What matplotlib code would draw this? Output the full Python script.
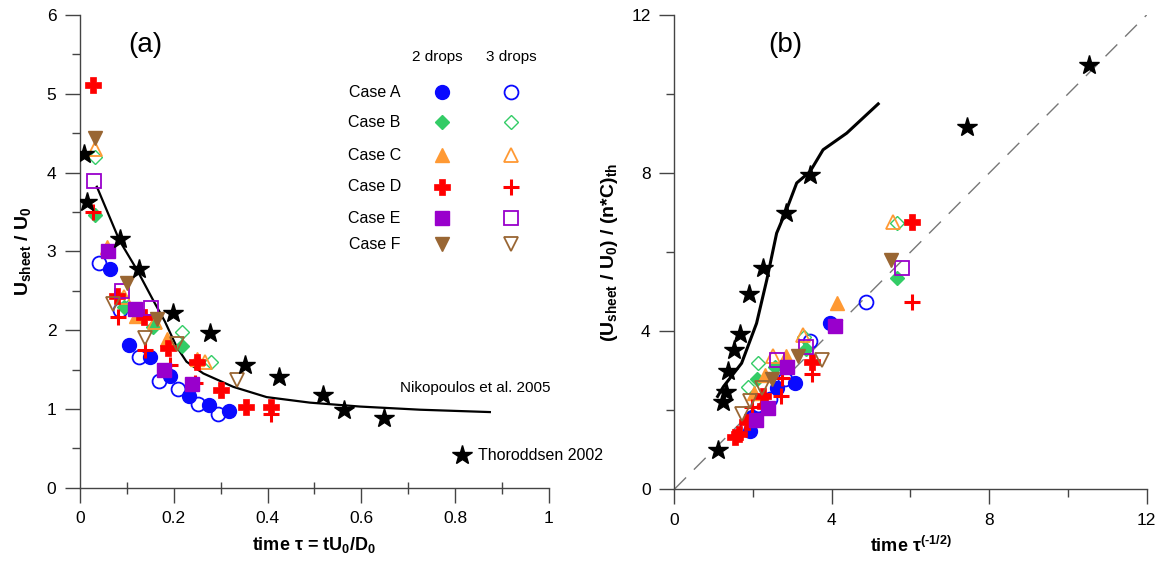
import matplotlib
matplotlib.use("Agg")
import matplotlib.pyplot as plt
from matplotlib.ticker import MultipleLocator

plt.rcParams['font.family'] = ['Liberation Sans', 'DejaVu Sans']
plt.rcParams['mathtext.fontset'] = 'custom'
plt.rcParams['mathtext.rm'] = 'Liberation Sans'
plt.rcParams['mathtext.bf'] = 'Liberation Sans:bold'
plt.rcParams['mathtext.it'] = 'Liberation Sans:italic'
plt.rcParams['mathtext.default'] = 'bf'

# ---------------- Panel (a) data: U_sheet/U0 vs tau ----------------
a_A2_x = [0.063, 0.104, 0.149, 0.191, 0.232, 0.275, 0.318]
a_A2_y = [2.77, 1.81, 1.66, 1.42, 1.17, 1.05, 0.97]
a_A3_x = [0.041, 0.086, 0.126, 0.168, 0.210, 0.252, 0.295]
a_A3_y = [2.85, 2.25, 1.66, 1.35, 1.25, 1.06, 0.94]
a_B2_x = [0.032, 0.094, 0.156, 0.217]
a_B2_y = [3.46, 2.29, 2.04, 1.80]
a_B3_x = [0.032, 0.090, 0.217, 0.279]
a_B3_y = [4.20, 2.40, 1.98, 1.60]
a_C2_x = [0.057, 0.120, 0.186, 0.249]
a_C2_y = [3.05, 2.18, 1.89, 1.63]
a_C3_x = [0.032, 0.093, 0.160, 0.266]
a_C3_y = [4.30, 2.42, 2.10, 1.59]
a_D2_x = [0.027, 0.079, 0.137, 0.188, 0.249, 0.301, 0.354, 0.407]
a_D2_y = [5.11, 2.43, 2.17, 1.77, 1.59, 1.24, 1.03, 1.03]
a_D3_x = [0.027, 0.080, 0.139, 0.192, 0.245, 0.407]
a_D3_y = [3.50, 2.17, 1.75, 1.56, 1.33, 0.94]
a_E2_x = [0.059, 0.118, 0.179, 0.238]
a_E2_y = [3.01, 2.27, 1.50, 1.32]
a_E3_x = [0.029, 0.089, 0.151]
a_E3_y = [3.89, 2.50, 2.28]
a_F2_x = [0.032, 0.100, 0.164]
a_F2_y = [4.44, 2.60, 2.14]
a_F3_x = [0.071, 0.139, 0.206, 0.335]
a_F3_y = [2.33, 1.90, 1.82, 1.37]
a_star_x = [0.009, 0.016, 0.086, 0.125, 0.199, 0.277, 0.352, 0.424, 0.519, 0.563, 0.648]
a_star_y = [4.24, 3.63, 3.16, 2.77, 2.22, 1.96, 1.56, 1.40, 1.18, 0.99, 0.89]
a_niko_x = [0.036, 0.084, 0.122, 0.156, 0.181, 0.206, 0.227, 0.263, 0.327, 0.398, 0.49, 0.597, 0.725, 0.874]
a_niko_y = [3.82, 3.14, 2.76, 2.38, 2.11, 1.79, 1.60, 1.45, 1.28, 1.15, 1.08, 1.03, 0.99, 0.96]

# ---------------- Panel (b) data ----------------
b_A2_x = [3.95, 3.07, 2.60, 1.97, 1.92]
b_A2_y = [4.20, 2.70, 2.56, 1.84, 1.48]
b_A3_x = [4.87, 3.45, 2.81, 2.43, 2.13, 1.84]
b_A3_y = [4.75, 3.74, 2.79, 2.28, 2.13, 1.58]
b_B2_x = [5.65, 3.35, 2.56, 2.11]
b_B2_y = [5.34, 3.55, 3.10, 2.78]
b_B3_x = [5.66, 3.30, 2.13, 1.88]
b_B3_y = [6.73, 3.85, 3.19, 2.58]
b_C2_x = [4.14, 2.85, 2.30, 2.02]
b_C2_y = [4.71, 3.37, 2.89, 2.43]
b_C3_x = [5.56, 3.26, 2.51]
b_C3_y = [6.77, 3.91, 3.37]
b_D2_x = [6.05, 3.49, 2.26, 2.30, 1.84, 1.65, 1.54]
b_D2_y = [6.77, 3.23, 2.35, 2.11, 1.71, 1.40, 1.33]
b_D3_x = [6.03, 3.49, 2.73, 2.70, 1.97]
b_D3_y = [4.73, 2.92, 2.81, 2.35, 2.09]
b_E2_x = [4.08, 2.87, 2.39, 2.08]
b_E2_y = [4.12, 3.09, 2.05, 1.75]
b_E3_x = [5.79, 3.35, 2.60]
b_E3_y = [5.61, 3.61, 3.27]
b_F2_x = [5.50, 3.15, 2.47]
b_F2_y = [5.81, 3.37, 2.78]
b_F3_x = [3.74, 2.22, 1.92, 1.71]
b_F3_y = [3.27, 2.56, 2.24, 1.91]
b_star_x = [1.11, 1.23, 1.31, 1.37, 1.52, 1.67, 1.90, 2.26, 2.85, 3.46, 7.44, 10.54]
b_star_y = [0.99, 2.22, 2.47, 3.00, 3.53, 3.93, 4.94, 5.61, 7.00, 7.94, 9.16, 10.74]
b_line_x = [1.10, 1.25, 1.71, 2.09, 2.35, 2.60, 2.85, 3.11, 3.45, 3.78, 4.38, 5.18]
b_line_y = [2.35, 2.60, 3.19, 4.20, 5.30, 6.48, 7.07, 7.75, 8.04, 8.59, 9.01, 9.75]
b_ref_x = [0, 12]
b_ref_y = [0, 12]

case_labels = ['Case A', 'Case B', 'Case C', 'Case D', 'Case E', 'Case F']
legend_rows_y = [5.02, 4.64, 4.22, 3.82, 3.42, 3.09]

BLUE = '#0a0aff'
GREEN = '#33cc66'
ORANGE = '#ff9933'
RED = '#ff0000'
PURPLE = '#9900cc'
BROWN = '#996633'

# style per series: (marker, color, filled, size, mew)
styles = {
    'A2': ('o', BLUE, True, 10, 1.0),
    'A3': ('o', BLUE, False, 10, 1.3),
    'B2': ('D', GREEN, True, 7.5, 1.0),
    'B3': ('D', GREEN, False, 7.5, 1.0),
    'C2': ('^', ORANGE, True, 10, 1.0),
    'C3': ('^', ORANGE, False, 10, 1.3),
    'D2': ('P', RED, True, 11, 0.5),
    'D3': ('+', RED, False, 12, 2.2),
    'E2': ('s', PURPLE, True, 9.5, 1.0),
    'E3': ('s', PURPLE, False, 9.5, 1.3),
    'F2': ('v', BROWN, True, 10, 1.0),
    'F3': ('v', BROWN, False, 10, 1.3),
}

def draw(ax, key, x, y, **kw):
    m, c, filled, ms, mew = styles[key]
    if filled:
        ax.plot(x, y, ls='none', marker=m, color=c, mfc=c, mec=c, ms=ms, mew=mew, **kw)
    else:
        ax.plot(x, y, ls='none', marker=m, color=c, mfc='none', mec=c, ms=ms, mew=mew, **kw)

fig = plt.figure(figsize=(11.66, 5.65), dpi=100)
axa = fig.add_axes([0.0686, 0.1368, 0.4022, 0.8367])
axb = fig.add_axes([0.5783, 0.1340, 0.4051, 0.8395])

AXC = '#444444'
for ax in (axa, axb):
    ax.spines['top'].set_visible(False)
    ax.spines['right'].set_visible(False)
    for s in ('left', 'bottom'):
        ax.spines[s].set_color(AXC)
        ax.spines[s].set_linewidth(1.0)
    ax.tick_params(which='major', direction='out', length=11, width=1.0, color=AXC, labelsize=12.5, pad=6)
    ax.tick_params(which='minor', direction='out', length=6, width=1.0, color=AXC)

# ---------- panel (a) ----------
axa.plot(a_niko_x, a_niko_y, color='black', lw=1.6, zorder=2)
series_a = [('A2', a_A2_x, a_A2_y), ('A3', a_A3_x, a_A3_y), ('B2', a_B2_x, a_B2_y), ('B3', a_B3_x, a_B3_y),
            ('C2', a_C2_x, a_C2_y), ('C3', a_C3_x, a_C3_y), ('D2', a_D2_x, a_D2_y), ('D3', a_D3_x, a_D3_y),
            ('E2', a_E2_x, a_E2_y), ('E3', a_E3_x, a_E3_y), ('F2', a_F2_x, a_F2_y), ('F3', a_F3_x, a_F3_y)]
for key, x, y in series_a:
    draw(axa, key, x, y, zorder=3)
axa.plot(a_star_x, a_star_y, ls='none', marker='*', color='black', ms=15, zorder=4)

axa.set_xlim(0, 1)
axa.set_ylim(0, 6)
axa.xaxis.set_major_locator(MultipleLocator(0.2))
axa.xaxis.set_minor_locator(MultipleLocator(0.1))
axa.yaxis.set_major_locator(MultipleLocator(1))
axa.yaxis.set_minor_locator(MultipleLocator(0.5))
axa.xaxis.set_major_formatter(plt.FuncFormatter(lambda v, p: ('%g' % round(v, 2))))
axa.tick_params(axis='x', which='minor', direction='inout', length=9)

axa.set_xlabel('time τ = tU$_0$/D$_0$', fontsize=13, fontweight='bold', labelpad=6)
axa.set_ylabel('U$_{sheet}$ / U$_0$', fontsize=14, fontweight='bold', labelpad=10)

axa.text(0.139, 5.62, '(a)', fontsize=20, ha='center', va='center')

# legend block
axa.text(0.762, 5.47, '2 drops', fontsize=11, ha='center', va='center')
axa.text(0.92, 5.47, '3 drops', fontsize=11, ha='center', va='center')
keys2 = ['A2', 'B2', 'C2', 'D2', 'E2', 'F2']
keys3 = ['A3', 'B3', 'C3', 'D3', 'E3', 'F3']
for lab, yy, k2, k3 in zip(case_labels, legend_rows_y, keys2, keys3):
    axa.text(0.684, yy, lab, fontsize=11.5, ha='right', va='center')
    draw(axa, k2, [0.771], [yy], zorder=3)
    draw(axa, k3, [0.920], [yy], zorder=3)

axa.text(0.682, 1.27, 'Nikopoulos et al. 2005', fontsize=11, ha='left', va='center')
axa.plot([0.814], [0.415], ls='none', marker='*', color='black', ms=15, clip_on=False)
axa.text(0.849, 0.415, 'Thoroddsen 2002', fontsize=11.5, ha='left', va='center')

# ---------- panel (b) ----------
axb.plot(b_ref_x, b_ref_y, color='#777777', lw=1.0, ls=(0, (12, 8)), zorder=1)
axb.plot(b_line_x, b_line_y, color='black', lw=2.2, zorder=2)
series_b = [('A2', b_A2_x, b_A2_y), ('A3', b_A3_x, b_A3_y), ('B2', b_B2_x, b_B2_y), ('B3', b_B3_x, b_B3_y),
            ('C2', b_C2_x, b_C2_y), ('C3', b_C3_x, b_C3_y), ('D2', b_D2_x, b_D2_y), ('D3', b_D3_x, b_D3_y),
            ('E2', b_E2_x, b_E2_y), ('E3', b_E3_x, b_E3_y), ('F2', b_F2_x, b_F2_y), ('F3', b_F3_x, b_F3_y)]
for key, x, y in series_b:
    draw(axb, key, x, y, zorder=3)
axb.plot(b_star_x, b_star_y, ls='none', marker='*', color='black', ms=15, zorder=4)

axb.set_xlim(0, 12)
axb.set_ylim(0, 12)
axb.xaxis.set_major_locator(MultipleLocator(4))
axb.xaxis.set_minor_locator(MultipleLocator(2))
axb.yaxis.set_major_locator(MultipleLocator(4))
axb.yaxis.set_minor_locator(MultipleLocator(2))
axb.set_xlabel('time τ$^{(\u20101/2)}$', fontsize=13, fontweight='bold', labelpad=6)
axb.set_ylabel('(U$_{sheet}$ / U$_0$) / (n*C)$_{th}$', fontsize=14, fontweight='bold', labelpad=8)
axb.text(2.81, 11.25, '(b)', fontsize=20, ha='center', va='center')

fig.savefig('out.png', dpi=100)
